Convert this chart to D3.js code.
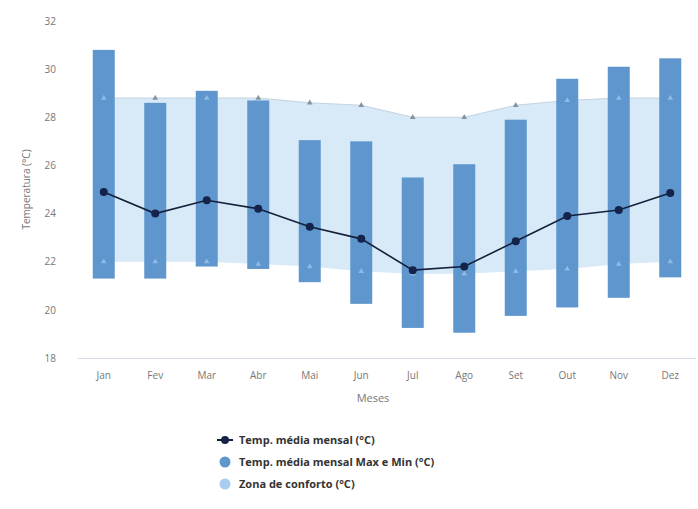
<!DOCTYPE html>
<html>
<head>
<meta charset="utf-8">
<script src="https://cdn.jsdelivr.net/npm/d3@7"></script>
<style>
  html, body { margin: 0; padding: 0; background: #fff; }
  svg { display: block; font-family: "Open Sans", "DejaVu Sans", sans-serif; }
</style>
</head>
<body>
<svg id="chart" width="698" height="509"></svg>
<script>
// Monthly temperatures (°C)
const months = ["Jan", "Fev", "Mar", "Abr", "Mai", "Jun", "Jul", "Ago", "Set", "Out", "Nov", "Dez"];
const tempMean = [24.9, 24.0, 24.55, 24.2, 23.45, 22.95, 21.65, 21.8, 22.85, 23.9, 24.15, 24.85];
const tempMax  = [30.8, 28.6, 29.1, 28.7, 27.05, 27.0, 25.5, 26.05, 27.9, 29.6, 30.1, 30.45];
const tempMin  = [21.3, 21.3, 21.8, 21.7, 21.15, 20.25, 19.25, 19.05, 19.75, 20.1, 20.5, 21.35];
const comfortHigh = [28.8, 28.8, 28.8, 28.8, 28.6, 28.5, 28.0, 28.0, 28.5, 28.7, 28.8, 28.8];
const comfortLow  = [22.0, 22.0, 22.0, 21.9, 21.8, 21.6, 21.5, 21.5, 21.6, 21.7, 21.9, 22.0];
const yTicks = [18, 20, 22, 24, 26, 28, 30, 32];
const legendLabels = ["Temp. média mensal (°C)", "Temp. média mensal Max e Min (°C)", "Zona de conforto (°C)"];

const colors = { bar: "#5f96cd", comfort: "#d8e9f8", comfortEdge: "#c3d3e0", line: "#15203a", marker: "#13234a" };

const svg = d3.select("#chart");
const margin = { left: 78, right: 2, top: 21, bottom: 151 };
const W = 698, H = 509;

const x = d3.scaleBand().domain(months).range([margin.left, W - margin.right]);
const y = d3.scaleLinear().domain([18, 32]).range([H - margin.bottom, margin.top]);
const cx = m => x(m) + x.bandwidth() / 2;

const rows = months.map((m, i) => ({
  m, mean: tempMean[i], max: tempMax[i], min: tempMin[i], hi: comfortHigh[i], lo: comfortLow[i]
}));

// Comfort zone band
const area = d3.area().x(d => cx(d.m)).y0(d => y(d.lo)).y1(d => y(d.hi));
svg.append("path").datum(rows).attr("d", area).attr("fill", colors.comfort);
svg.append("path").datum(rows)
  .attr("d", d3.line().x(d => cx(d.m)).y(d => y(d.hi)))
  .attr("fill", "none").attr("stroke", colors.comfortEdge).attr("stroke-width", 1);

// X axis baseline
svg.append("line")
  .attr("x1", margin.left).attr("x2", W - margin.right)
  .attr("y1", y(18) + 0.5).attr("y2", y(18) + 0.5)
  .attr("stroke", "#d5dbe3").attr("stroke-width", 1);

// Max/min range bars
const barW = 22;
svg.append("g").selectAll("rect").data(rows).join("rect")
  .attr("x", d => cx(d.m) - barW / 2)
  .attr("width", barW)
  .attr("y", d => y(d.max))
  .attr("height", d => y(d.min) - y(d.max))
  .attr("fill", colors.bar);

// Comfort zone point markers
const comfortPts = [];
rows.forEach(d => {
  comfortPts.push({ m: d.m, v: d.hi, inBar: d.hi <= d.max && d.hi >= d.min });
  comfortPts.push({ m: d.m, v: d.lo, inBar: d.lo <= d.max && d.lo >= d.min });
});
svg.append("g").selectAll("path").data(comfortPts).join("path")
  .attr("transform", d => `translate(${cx(d.m)},${y(d.v)})`)
  .attr("d", d3.symbol(d3.symbolTriangle, 14))
  .attr("fill", d => d.inBar ? "#8cbbe8" : "#8593a0");

// Monthly mean line
svg.append("path").datum(rows)
  .attr("d", d3.line().x(d => cx(d.m)).y(d => y(d.mean)))
  .attr("fill", "none").attr("stroke", colors.line).attr("stroke-width", 1.6);
svg.append("g").selectAll("circle").data(rows).join("circle")
  .attr("cx", d => cx(d.m)).attr("cy", d => y(d.mean)).attr("r", 4)
  .attr("fill", colors.marker);

// Y axis labels
const yAxis = d3.axisLeft(y).tickValues(yTicks).tickSize(0).tickPadding(0);
const gy = svg.append("g").attr("transform", `translate(${margin.left - 22},0)`).call(yAxis);
gy.select(".domain").remove();
gy.selectAll("text").attr("font-size", 10).attr("fill", "#777").attr("font-family", "Open Sans, sans-serif");

// X axis labels
const xAxis = d3.axisBottom(x).tickSize(0).tickPadding(0);
const gx = svg.append("g").attr("transform", `translate(0,${y(18) + 14})`).call(xAxis);
gx.select(".domain").remove();
gx.selectAll("text").attr("font-size", 10).attr("fill", "#777").attr("font-family", "Open Sans, sans-serif");

// Axis titles
svg.append("text").text("Meses")
  .attr("x", 373).attr("y", 402).attr("text-anchor", "middle")
  .attr("font-size", 11).attr("fill", "#777");
svg.append("text").text("Temperatura (°C)")
  .attr("transform", `translate(30,${(y(18) + y(32)) / 2}) rotate(-90)`)
  .attr("text-anchor", "middle").attr("font-size", 10).attr("fill", "#777");

// Legend
const lg = svg.append("g").attr("transform", "translate(217,440)");
const rowH = 22;
lg.append("line").attr("x1", 0).attr("x2", 16).attr("y1", 0).attr("y2", 0)
  .attr("stroke", colors.line).attr("stroke-width", 2);
lg.append("circle").attr("cx", 8).attr("cy", 0).attr("r", 4).attr("fill", colors.marker);
lg.append("circle").attr("cx", 8).attr("cy", rowH).attr("r", 5.5).attr("fill", colors.bar);
lg.append("circle").attr("cx", 8).attr("cy", rowH * 2).attr("r", 5.5).attr("fill", "#a8cdee");
lg.selectAll("text").data(legendLabels).join("text")
  .attr("x", 22).attr("y", (d, i) => i * rowH + 4)
  .attr("font-size", 11).attr("font-weight", "bold").attr("fill", "#333")
  .text(d => d);
</script>
</body>
</html>
